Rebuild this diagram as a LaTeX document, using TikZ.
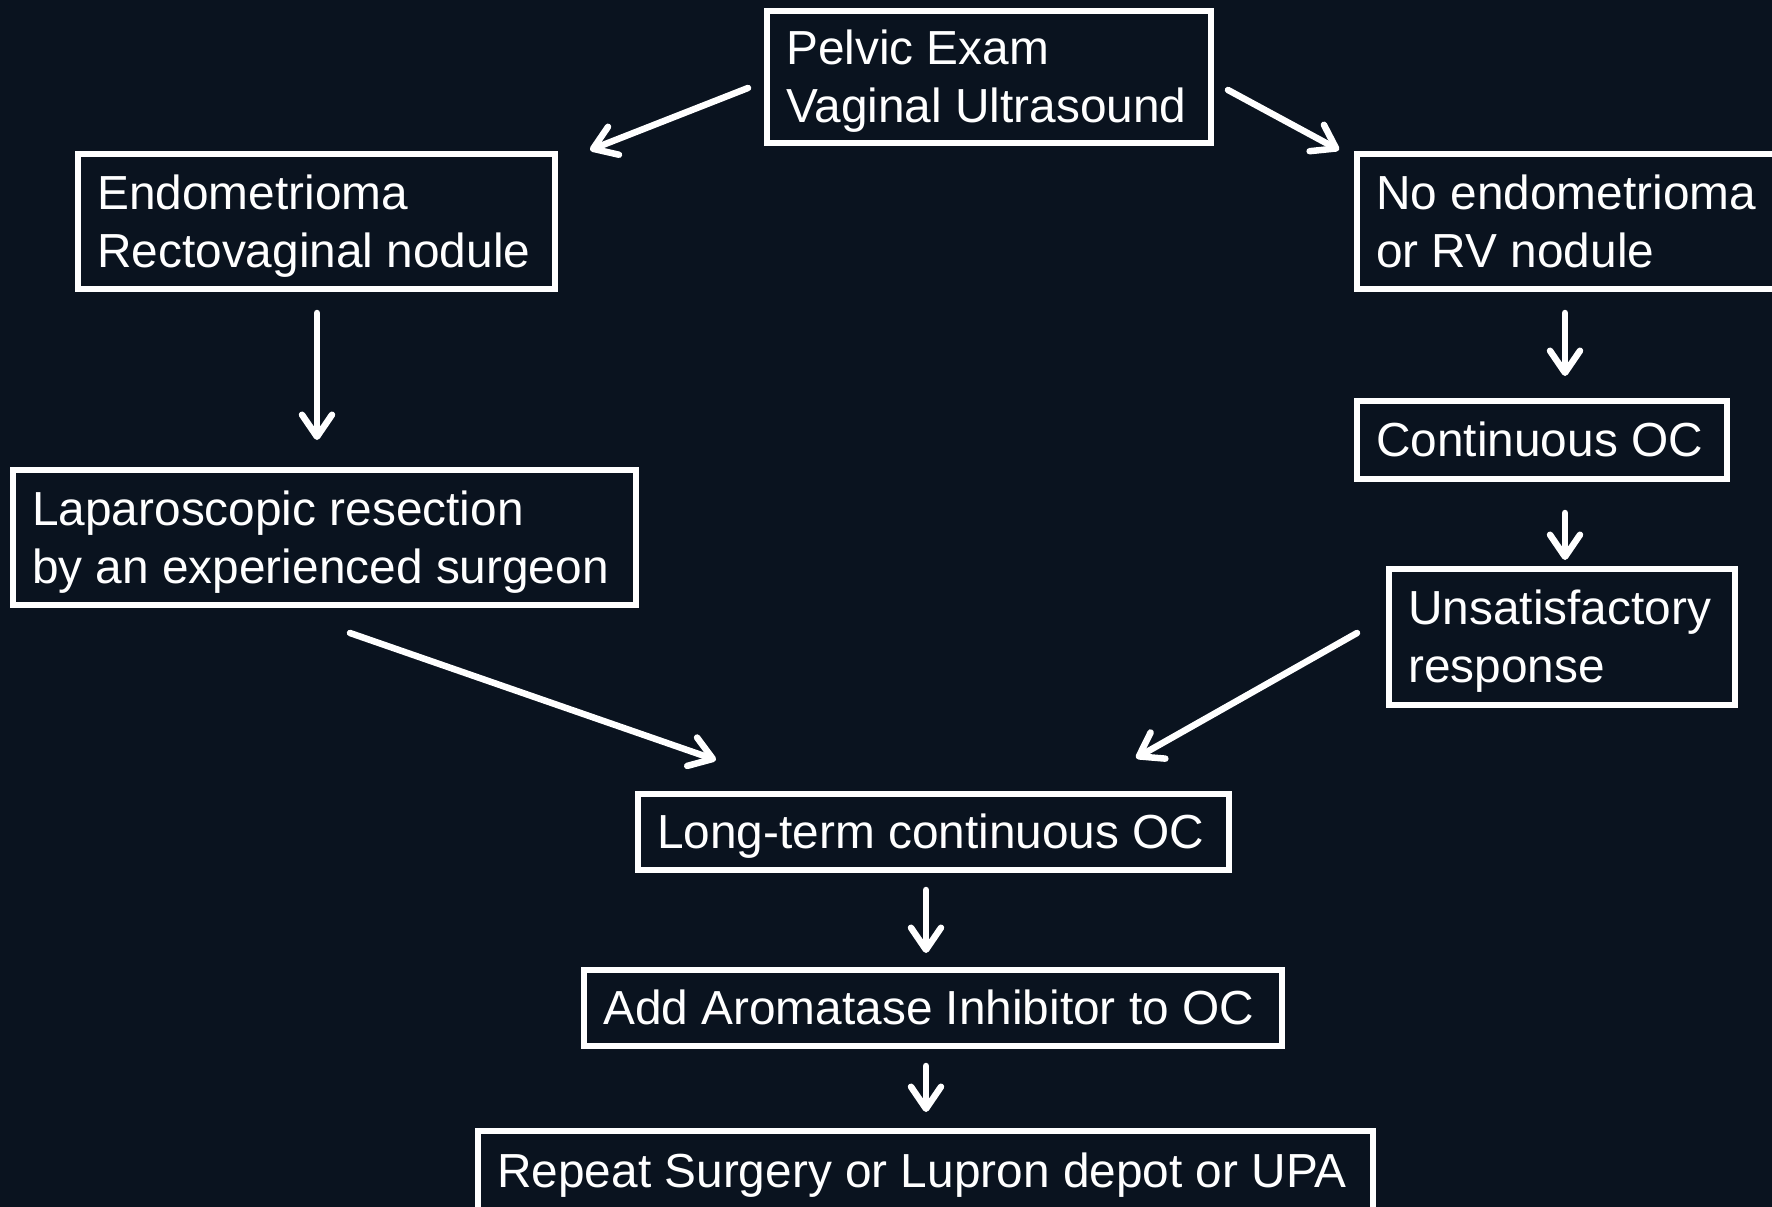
\documentclass[tikz,border=0pt]{standalone}
\usepackage{fontspec}
\setmainfont{Liberation Sans}
\usetikzlibrary{arrows.meta}
\definecolor{bgcol}{RGB}{10,19,31}
\begin{document}
\begin{tikzpicture}[x=1pt,y=-1pt,
  boxframe/.style={draw=white, line width=6pt, inner sep=0pt},
  boxtext/.style={text=white, inner sep=0pt, anchor=base west,
    font=\fontsize{47.8}{58}\selectfont},
  arr/.style={draw=white, line width=6.5pt, line cap=round,
    -{Straight Barb[length=22pt,width=30pt,line cap=round,line join=round]}}]
\fill[bgcol] (0,0) rectangle (1772,1207);
\useasboundingbox (0,0) rectangle (1772,1207);
% #1 name, #2 left, #3 top, #4 right, #5 bottom, #6 number of lines, #7 text
\newcommand\flowbox[7]{%
  \pgfmathsetmacro\myBW{#4-#2-6}%
  \pgfmathsetmacro\myBH{#5-#3-6}%
  \pgfmathsetmacro\myTX{#2+22}%
  \pgfmathsetmacro\myTY{(#3+#5)/2+16.5+29*(#6-1)}%
  \node[boxframe, minimum width=\myBW pt, minimum height=\myBH pt]
    (#1) at ({(#2+#4)/2},{(#3+#5)/2}) {};
  \node[boxtext] (#1-t) at (\myTX,\myTY)
    {\begin{tabular}[b]{@{}l@{}}#7\end{tabular}};}
\flowbox{pelvic}{764}{8}{1214}{146}{2}{Pelvic Exam\\Vaginal Ultrasound}
\flowbox{endo}{75}{151}{558}{292}{2}{Endometrioma\\Rectovaginal nodule}
\flowbox{noendo}{1354}{151}{1790}{292}{2}{No endometrioma\\or RV nodule}
\flowbox{cont}{1354}{398}{1730}{482}{1}{Continuous OC}
\flowbox{unsat}{1386}{566}{1738}{708}{2}{Unsatisfactory\\response}
\flowbox{lap}{10}{467}{639}{608}{2}{Laparoscopic resection\\by an experienced surgeon}
\flowbox{long}{635}{791}{1232}{873}{1}{Long-term continuous OC}
\flowbox{add}{581}{967}{1285}{1049}{1}{Add Aromatase Inhibitor to OC}
\flowbox{rep}{475}{1128}{1376}{1213}{1}{Repeat Surgery or Lupron depot or UPA}
% arrow end points
\coordinate (s1) at (748,88);   \coordinate (e1) at (590,150);
\coordinate (s2) at (1228,90);  \coordinate (e2) at (1339,150);
\coordinate (s3) at (317,313);  \coordinate (e3) at (317,440);
\coordinate (s4) at (1565,313); \coordinate (e4) at (1565,376);
\coordinate (s5) at (1565,513); \coordinate (e5) at (1565,560);
\coordinate (s6) at (350,633);  \coordinate (e6) at (716,760);
\coordinate (s7) at (1357,633); \coordinate (e7) at (1136,758);
\coordinate (s8) at (926,890);  \coordinate (e8) at (926,953);
\coordinate (s9) at (926,1066); \coordinate (e9) at (926,1112);
\foreach \i in {1,...,9} {\draw[arr] (s\i) -- (e\i);}
\end{tikzpicture}
\end{document}
